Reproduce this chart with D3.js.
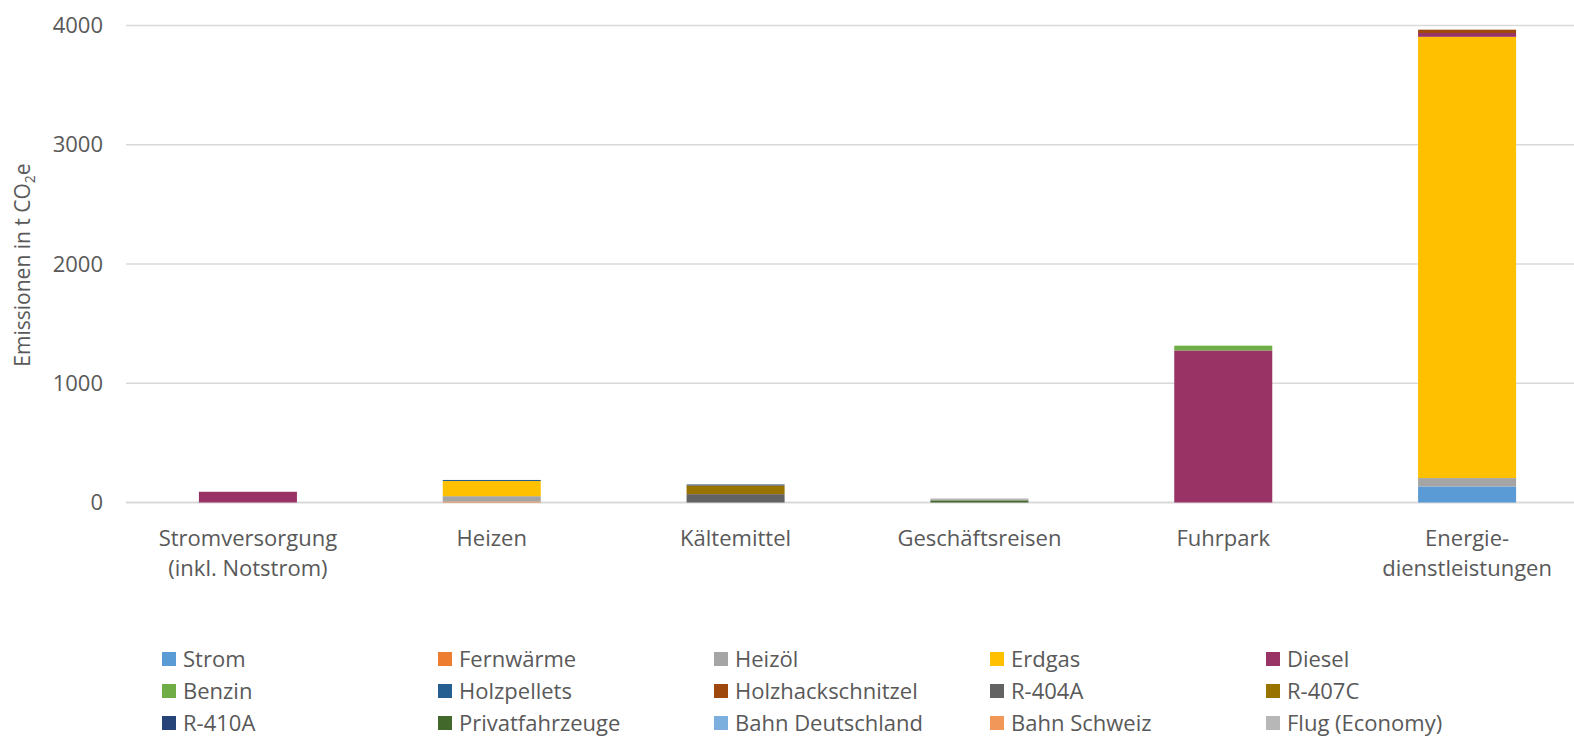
<!DOCTYPE html>
<html>
<head>
<meta charset="utf-8">
<script src="https://cdn.jsdelivr.net/npm/d3@7"></script>
<style>
  body { margin: 0; background: #fff; }
  svg { font-family: "Open Sans", sans-serif; }
</style>
</head>
<body>
<script>
// Data
var categories = ["Stromversorgung (inkl. Notstrom)", "Heizen", "Kältemittel", "Geschäftsreisen", "Fuhrpark", "Energie-dienstleistungen"];
var categoryLines = [["Stromversorgung", "(inkl. Notstrom)"], ["Heizen"], ["Kältemittel"], ["Geschäftsreisen"], ["Fuhrpark"], ["Energie-", "dienstleistungen"]];

var seriesNames = ["Strom", "Fernwärme", "Heizöl", "Erdgas", "Diesel", "Benzin", "Holzpellets", "Holzhackschnitzel", "R-404A", "R-407C", "R-410A", "Privatfahrzeuge", "Bahn Deutschland", "Bahn Schweiz", "Flug (Economy)"];
var seriesColors = ["#5b9bd5", "#ed7d31", "#a5a5a5", "#ffc000", "#993366", "#70ad47", "#255e91", "#9e480e", "#636363", "#997300", "#264478", "#43682b", "#7cafdd", "#f1975a", "#b7b7b7"];

// values per series, one per category
var strom             = [0, 0, 0, 0, 0, 135];
var fernwaerme        = [0, 8, 0, 0, 0, 0];
var heizoel           = [0, 45, 0, 0, 0, 70];
var erdgas            = [0, 127, 0, 0, 0, 3700];
var diesel            = [90, 0, 0, 0, 1275, 32];
var benzin            = [0, 0, 0, 0, 40, 0];
var holzpellets       = [0, 9, 0, 0, 0, 0];
var holzhackschnitzel = [0, 0, 0, 0, 0, 28];
var r404a             = [0, 0, 70, 0, 0, 0];
var r407c             = [0, 0, 73, 0, 0, 0];
var r410a             = [0, 0, 8, 0, 0, 0];
var privatfahrzeuge   = [0, 0, 0, 18, 0, 0];
var bahnDeutschland   = [0, 0, 0, 1, 0, 0];
var bahnSchweiz       = [0, 0, 0, 1, 0, 0];
var flugEconomy       = [0, 0, 0, 14, 0, 0];

var seriesValues = [strom, fernwaerme, heizoel, erdgas, diesel, benzin, holzpellets, holzhackschnitzel, r404a, r407c, r410a, privatfahrzeuge, bahnDeutschland, bahnSchweiz, flugEconomy];
var yTicks = [0, 1000, 2000, 3000, 4000];

function drawChart() {
    var width = 1574, height = 742;
    var plotLeft = 126, plotRight = 1589, plotTop = 25.5, plotBottom = 502.5;

    var svg = d3.select("body").append("svg")
        .attr("width", width)
        .attr("height", height);

    // build table for stack
    var table = categories.map(function (c, i) {
        var row = { cat: c };
        seriesNames.forEach(function (s, j) { row[s] = seriesValues[j][i]; });
        return row;
    });

    var stack = d3.stack().keys(seriesNames)(table);

    var x = d3.scaleBand()
        .domain(categories)
        .range([plotLeft, plotRight])
        .paddingInner(0.598)
        .paddingOuter(0.299);

    var y = d3.scaleLinear()
        .domain([0, 4000])
        .range([plotBottom, plotTop]);

    var color = d3.scaleOrdinal().domain(seriesNames).range(seriesColors);

    // gridlines
    svg.append("g")
        .selectAll("line")
        .data(yTicks)
        .enter().append("line")
        .attr("x1", plotLeft)
        .attr("x2", width)
        .attr("y1", function (d) { return y(d); })
        .attr("y2", function (d) { return y(d); })
        .attr("stroke", "#d9d9d9")
        .attr("stroke-width", function (d) { return d === 0 ? 2 : 1.3; });

    // y axis
    var yAxis = svg.append("g")
        .attr("transform", "translate(103,0)")
        .call(d3.axisLeft(y).tickValues(yTicks).tickFormat(d3.format("d")).tickSize(0).tickPadding(0));
    yAxis.select(".domain").remove();
    yAxis.selectAll("text")
        .attr("fill", "#595959")
        .attr("font-size", 22)
        .attr("font-family", "Open Sans, sans-serif");

    // bars
    svg.append("g")
        .selectAll("g")
        .data(stack)
        .enter().append("g")
        .attr("fill", function (d) { return color(d.key); })
        .selectAll("rect")
        .data(function (d) { return d; })
        .enter().append("rect")
        .attr("x", function (d) { return x(d.data.cat); })
        .attr("width", x.bandwidth())
        .attr("y", function (d) { return y(d[1]); })
        .attr("height", function (d) { return y(d[0]) - y(d[1]); });

    // x labels
    var xl = svg.append("g")
        .selectAll("text")
        .data(categories)
        .enter().append("text")
        .attr("y", 546)
        .attr("text-anchor", "middle")
        .attr("fill", "#595959")
        .attr("font-size", 22);
    xl.selectAll("tspan")
        .data(function (d, i) { return categoryLines[i].map(function (t) { return { cat: d, text: t }; }); })
        .enter().append("tspan")
        .attr("x", function (d) { return x(d.cat) + x.bandwidth() / 2; })
        .attr("dy", function (d, i) { return i ? 30 : 0; })
        .text(function (d) { return d.text; });

    // y axis title
    var yt = svg.append("text")
        .attr("transform", "translate(30,265) rotate(-90)")
        .attr("text-anchor", "middle")
        .attr("fill", "#595959")
        .attr("font-size", 21);
    yt.append("tspan").text("Emissionen in t CO");
    yt.append("tspan").attr("font-size", 14).attr("dy", 5).text("2");
    yt.append("tspan").attr("dy", -5).text("e");

    // legend
    var legend = svg.append("g")
        .selectAll("g")
        .data(seriesNames)
        .enter().append("g")
        .attr("transform", function (d, i) {
            return "translate(" + (162 + (i % 5) * 276) + "," + (659 + Math.floor(i / 5) * 32) + ")";
        });
    legend.append("rect")
        .attr("x", 0)
        .attr("y", -7)
        .attr("width", 14)
        .attr("height", 14)
        .attr("fill", function (d) { return color(d); });
    legend.append("text")
        .attr("x", 21)
        .attr("y", 8)
        .attr("fill", "#595959")
        .attr("font-size", 22)
        .text(function (d) { return d; });
}

drawChart();
</script>
</body>
</html>
